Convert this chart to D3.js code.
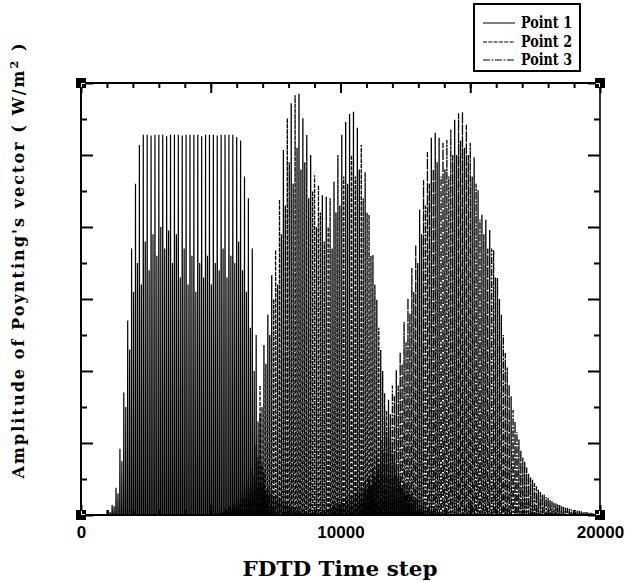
<!DOCTYPE html>
<html>
<head>
<meta charset="utf-8">
<script src="https://cdn.jsdelivr.net/npm/d3@7/dist/d3.min.js"></script>
<style>
  html, body { margin: 0; padding: 0; background: #fff; }
  svg { display: block; }
</style>
</head>
<body>
<script>
// ---------------- DATA ----------------
const xTickLabels = ["0", "10000", "20000"];
const xTickValues = [0, 10000, 20000];
const xMinorTicks = d3.range(0, 20001, 1000);
const xMajorTicks = d3.range(0, 20001, 5000);
const yMajorTicks = [0, 1, 2, 3, 4, 5, 6];
const yMinorTicks = [0.5, 1.5, 2.5, 3.5, 4.5, 5.5];
const seriesNames = ["Point 1", "Point 2", "Point 3"];
const spikeSpacing = 150; // FDTD time steps between successive tall peaks

// Point 1 : main pulse (tall peaks, and the shorter peaks in between)
const p1Start = 1050;
const p1Tall = [0.07,0.14,0.38,0.92,1.7,2.7,3.7,4.6,5.14,
  5.28,5.28,5.27,5.28,5.28,5.28,5.26,5.28,5.28,5.28,5.27,5.28,5.28,5.28,5.28,5.26,5.28,5.28,5.28,5.27,5.28,5.28,5.28,5.28,5.25,
  5.2,4.7,4.4,3.7,2.5,1.4,0.6,0.25,0.1];
const p1Short = [0.04,0.12,0.3,0.75,1.5,2.3,3.1,3.5,3.2,3.8,3.4,3.9,3.6,4.0,3.7,3.95,3.5,3.9,3.3,3.7,3.2,3.6,3.1,3.5,3.3,3.6,3.2,3.5,3.4,3.7,3.3,3.6,3.5,3.8,3.4,3.1,2.6,2.0,1.3,0.7,0.3,0.12,0.05];
// Point 1 : small late pulse
const p1EchoStart = 9000;
const p1EchoTall = [0.03,0.05,0.07,0.09,0.12,0.15,0.18,0.21,0.25,0.29,0.33,0.37,0.42,0.47,0.52,0.56,0.6,0.62,0.63,0.62,0.6,0.56,0.5,0.44,0.38,0.31,0.25,0.19,0.14,0.1,0.07,0.05,0.03,0.02];
const p1EchoShort = [0.02,0.04,0.05,0.07,0.1,0.12,0.14,0.17,0.2,0.23,0.26,0.3,0.34,0.38,0.42,0.45,0.48,0.5,0.5,0.5,0.48,0.45,0.4,0.35,0.3,0.25,0.2,0.15,0.11,0.08,0.06,0.04,0.02,0.02];

// Point 2
const p2Start = 5700;
const p2Tall = [0.1,0.17,0.24,0.32,0.4,0.5,0.65,0.97,1.8,2.36,
  2.78,3.33,3.68,4.38,5.07,5.51,5.72,5.83,5.85,5.51,
  5.28,5.0,4.72,4.58,4.44,4.42,4.4,4.63,5.0,5.28,
  5.46,5.57,5.6,5.38,5.14,4.76,4.17,3.61,2.99,2.29,
  1.69,1.25,0.93,0.65,0.46,0.31,0.21,0.14,0.08,0.05];
const p2Short = [0.07,0.12,0.18,0.25,0.32,0.4,0.55,0.8,1.5,2.1,
  2.5,3.0,3.2,3.9,4.3,4.9,4.6,5.1,4.8,4.9,
  4.4,4.5,4.0,4.2,3.8,4.0,3.7,4.2,4.3,4.7,
  4.6,5.0,4.7,4.8,4.4,4.2,3.6,3.2,2.6,2.0,
  1.45,1.1,0.8,0.56,0.38,0.26,0.17,0.11,0.06,0.04];

// Point 3 : small early pulse and main pulse
const p3PreStart = 5100;
const p3PreTall = [0.02,0.04,0.06,0.09,0.12,0.16,0.2,0.25,0.3,0.36,0.42,0.47,0.45,0.42,0.38,0.33,0.28,0.24,0.2,0.16,0.13,0.1,0.08,0.06,0.05,0.04,0.03,0.02];
const p3PreShort = [0.02,0.03,0.05,0.07,0.1,0.13,0.16,0.2,0.24,0.29,0.34,0.38,0.36,0.34,0.3,0.26,0.22,0.19,0.16,0.13,0.1,0.08,0.06,0.05,0.04,0.03,0.02,0.02];
const p3Start = 10500;
const p3Tall = [0.07,0.14,0.24,0.35,0.49,0.65,0.83,1.04,1.32,1.6,
  1.8,2.01,2.26,2.68,3.01,3.43,3.75,4.24,4.65,5.04,
  5.24,5.31,5.24,5.17,5.21,5.35,5.49,5.58,5.6,5.42,
  5.17,4.97,4.51,4.17,4.1,3.96,3.68,3.29,2.78,2.25,
  1.81,1.46,1.15,0.9,0.74,0.58,0.49,0.4,0.32,0.28,
  0.24,0.19,0.17,0.14,0.11,0.1,0.08,0.07,0.06,0.04,
  0.04,0.03];
const p3Short = [0.05,0.11,0.2,0.3,0.42,0.55,0.7,0.9,1.15,1.4,
  1.65,1.8,2.1,2.4,2.8,3.1,3.5,3.9,4.3,4.6,
  4.8,4.9,4.7,4.8,4.7,5.0,5.0,5.2,5.1,5.0,
  4.7,4.6,4.1,3.9,3.7,3.7,3.3,3.0,2.5,2.05,
  1.65,1.3,1.05,0.8,0.66,0.52,0.44,0.35,0.29,0.25,
  0.21,0.17,0.15,0.12,0.1,0.09,0.07,0.06,0.05,0.04,
  0.03,0.03];

// ---------------- CHART ----------------
const W = 637, H = 582;
const svg = d3.select("body").append("svg").attr("width", W).attr("height", H);
svg.append("rect").attr("width", W).attr("height", H).attr("fill", "#fff");

const x = d3.scaleLinear().domain([0, 20000]).range([81, 600]);
const y = d3.scaleLinear().domain([0, 6]).range([515, 83]);

// build the oscillating trace from the peak lists (narrow spikes, back to zero in between)
function tracePoints(start, tall, short) {
  const pts = [];
  const h = spikeSpacing / 2, a = 10;
  tall.forEach((v, i) => {
    const s = start + i * spikeSpacing;
    pts.push([s - a, 0], [s, v], [s + a, 0], [s + h - a, 0], [s + h, short[i]], [s + h + a, 0]);
  });
  return pts;
}
const line = d3.line().x(d => x(d[0])).y(d => y(d[1]));

const series = [
  { name: seriesNames[0], dash: null, sw: 1.2, parts: [[p1Start, p1Tall, p1Short], [p1EchoStart, p1EchoTall, p1EchoShort]] },
  { name: seriesNames[1], dash: "4,1.3", sw: 1.3, parts: [[p2Start, p2Tall, p2Short]] },
  { name: seriesNames[2], dash: "7,1.5,2,1.5", sw: 1.3, parts: [[p3PreStart, p3PreTall, p3PreShort], [p3Start, p3Tall, p3Short]] }
];

const plot = svg.append("g");
series.forEach(sr => {
  sr.parts.forEach(p => {
    plot.append("path")
      .attr("d", line(tracePoints(p[0], p[1], p[2])))
      .attr("fill", "none")
      .attr("stroke", "#000")
      .attr("stroke-width", sr.sw)
      .attr("stroke-dasharray", sr.dash);
  });
});

// axes frame
function tickAxis(axis, tx, ty) {
  const g = svg.append("g").attr("transform", `translate(${tx},${ty})`).call(axis);
  g.select(".domain").remove();
  g.selectAll(".tick line").attr("stroke", "#000").attr("stroke-width", 2);
  g.selectAll(".tick text").remove();
  return g;
}
tickAxis(d3.axisRight(y).tickValues(yMajorTicks).tickSize(12), x(0), 0);
tickAxis(d3.axisRight(y).tickValues(yMinorTicks).tickSize(6), x(0), 0);
tickAxis(d3.axisLeft(y).tickValues(yMajorTicks).tickSize(12), x(20000), 0);
tickAxis(d3.axisLeft(y).tickValues(yMinorTicks).tickSize(6), x(20000), 0);
tickAxis(d3.axisBottom(x).tickValues(xMinorTicks).tickSize(5), 0, y(6));
tickAxis(d3.axisBottom(x).tickValues(xMajorTicks).tickSize(10), 0, y(6));
tickAxis(d3.axisTop(x).tickValues(xMinorTicks).tickSize(5), 0, y(0));
tickAxis(d3.axisTop(x).tickValues(xMajorTicks).tickSize(10), 0, y(0));

const frame = svg.append("g").attr("fill", "none").attr("stroke", "#000");
frame.append("line").attr("x1", x(0)).attr("x2", x(0)).attr("y1", y(0)).attr("y2", y(6)).attr("stroke-width", 2);
frame.append("line").attr("x1", x(20000)).attr("x2", x(20000)).attr("y1", y(0)).attr("y2", y(6)).attr("stroke-width", 1.6);
frame.append("line").attr("x1", x(0)).attr("x2", x(20000)).attr("y1", y(6)).attr("y2", y(6)).attr("stroke-width", 2);
frame.append("line").attr("x1", x(0)).attr("x2", x(20000)).attr("y1", y(0)).attr("y2", y(0)).attr("stroke-width", 2);

// corner markers
const corners = [[0, 6, 1, 1], [20000, 6, -1, 1], [0, 0, 1, -1], [20000, 0, -1, -1]];
corners.forEach(c => {
  const cx = x(c[0]), cy = y(c[1]);
  svg.append("rect").attr("x", cx - 5).attr("y", cy - 5).attr("width", 10).attr("height", 10).attr("fill", "#000");
  svg.append("path")
    .attr("d", `M${cx + c[2] * 4},${cy + c[3] * 0.5}L${cx + c[2] * 0.5},${cy + c[3] * 0.5}L${cx + c[2] * 0.5},${cy + c[3] * 4}`)
    .attr("fill", "none").attr("stroke", "#fff").attr("stroke-width", 1);
});

// x tick labels
const xl = svg.append("g").attr("transform", `translate(0,${y(0)})`)
  .call(d3.axisBottom(x).tickValues(xTickValues).tickFormat((d, i) => xTickLabels[i]).tickSize(0).tickPadding(11));
xl.select(".domain").remove();
xl.selectAll("text").attr("font-family", "'Liberation Sans', Arial, sans-serif")
  .attr("font-weight", "bold").attr("font-size", 17).attr("fill", "#000");

// axis titles
svg.append("text")
  .attr("x", 340).attr("y", 576)
  .attr("text-anchor", "middle")
  .attr("font-family", "'DejaVu Serif', serif").attr("font-weight", "bold").attr("font-size", 21)
  .attr("textLength", 195).attr("lengthAdjust", "spacingAndGlyphs")
  .text("FDTD Time step");

const yt = svg.append("text")
  .attr("transform", "translate(24,261) rotate(-90)")
  .attr("text-anchor", "middle")
  .attr("font-family", "'DejaVu Serif', serif").attr("font-weight", "bold").attr("font-size", 16)
  .attr("textLength", 435).attr("lengthAdjust", "spacing");
yt.append("tspan").text("Amplitude of Poynting's vector ( W/m");
yt.append("tspan").attr("dy", -6).attr("font-size", 11).text("2");
yt.append("tspan").attr("dy", 6).text(" )");

// legend
const lg = svg.append("g");
lg.append("rect").attr("x", 474).attr("y", 4).attr("width", 106).attr("height", 67)
  .attr("fill", "#fff").attr("stroke", "#000").attr("stroke-width", 2);
const legY = [23, 42, 60];
series.forEach((sr, i) => {
  lg.append("line").attr("x1", 483).attr("x2", 515).attr("y1", legY[i]).attr("y2", legY[i])
    .attr("stroke", "#000").attr("stroke-width", 1).attr("stroke-dasharray", sr.dash);
  lg.append("text").attr("x", 521).attr("y", legY[i] + 5)
    .attr("font-family", "'DejaVu Serif', serif").attr("font-weight", "bold").attr("font-size", 16)
    .attr("textLength", 51).attr("lengthAdjust", "spacingAndGlyphs")
    .text(sr.name);
});
</script>
</body>
</html>
